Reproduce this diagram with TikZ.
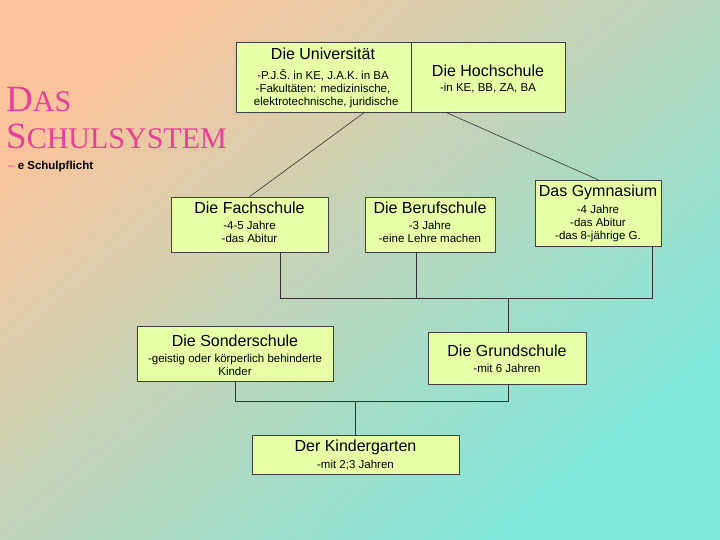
\documentclass[tikz,border=0pt]{standalone}
\usepackage{fontspec}
\setmainfont{Liberation Sans}
\newfontfamily\titlefont{Liberation Serif}
\definecolor{boxfill}{HTML}{E8FFA8}
\definecolor{peach}{HTML}{F9C49C}
\definecolor{turq}{HTML}{7DE8DC}
\definecolor{pinkt}{HTML}{E8409A}
\begin{document}
\begin{tikzpicture}[x=1pt,y=-1pt,
  sbox/.style={draw=black!75,fill=boxfill,line width=0.6pt},
  ttl/.style={font=\fontsize{16}{17}\selectfont},
  sub/.style={font=\fontsize{11.5}{13}\selectfont, align=center},
  big/.style={anchor=base west,inner sep=0,text=pinkt,font=\titlefont},
  ln/.style={draw=black!80,line width=0.6pt}]
\shade[shading=axis,top color=peach,bottom color=turq,shading angle=40] (0,0) rectangle (720,540);
\useasboundingbox (0,0) rectangle (720,540);
\node[big] (t1) at (6,112) {\fontsize{37}{30}\selectfont D\fontsize{30}{30}\selectfont AS};
\node[big] (t2) at (6,149) {\fontsize{37}{30}\selectfont S\fontsize{30}{30}\selectfont CHULSYSTEM};
\node[anchor=west,inner sep=0,font=\fontsize{11.5}{13}\selectfont\bfseries] (pf) at (8,167) {\textcolor{pinkt}{\mdseries -- }e Schulpflicht};
% boxes
\path[sbox] (236,42) rectangle (411,112);
\path[sbox] (411,42) rectangle (565,112);
\node[ttl] (uni) at (323,54) {Die Universität};
\node[sub,anchor=north] (unis) at (323,66) {-P.J.Š. in KE, J.A.K. in BA\\-Fakultäten: medizinische,\\\ \ elektrotechnische, juridische};
\node[ttl] (hoch) at (488,71) {Die Hochschule};
\node[sub] (hochs) at (488,88) {-in KE, BB, ZA, BA};
\coordinate (uB) at (365,112); \coordinate (hB) at (445,112);

\node[sbox,minimum width=157,minimum height=55] (fach) at (249.5,224.5) {};
\node[ttl] at (249.5,208) {Die Fachschule};
\node[sub,anchor=north] at (249.5,218) {-4-5 Jahre\\-das Abitur};

\node[sbox,minimum width=130,minimum height=55] (beruf) at (430,224.5) {};
\node[ttl] at (430,208) {Die Berufschule};
\node[sub,anchor=north] at (430,218) {-3 Jahre\\-eine Lehre machen};

\node[sbox,minimum width=126,minimum height=66] (gym) at (598,213) {};
\node[ttl] at (598,192) {Das Gymnasium};
\node[sub,anchor=north] at (598,202) {-4 Jahre\\-das Abitur\\-das 8-jährige G.};

\node[sbox,minimum width=196,minimum height=55] (sonder) at (235,353.5) {};
\node[ttl] at (235,341) {Die Sonderschule};
\node[sub,anchor=north] at (235,351) {-geistig oder körperlich behinderte\\Kinder};

\node[sbox,minimum width=158,minimum height=52] (grund) at (507,358) {};
\node[ttl] at (507,351) {Die Grundschule};
\node[sub,anchor=north] at (507,361) {-mit 6 Jahren};

\node[sbox,minimum width=207,minimum height=39] (kind) at (355.5,454.5) {};
\node[ttl] at (355.5,447) {Der Kindergarten};
\node[sub,anchor=north] at (355.5,457) {-mit 2;3 Jahren};

% connectors
\draw[ln] (uB) -- (fach.north);
\draw[ln] (hB) -- (gym.north);
\coordinate (b1) at (280,298); \coordinate (b2) at (652,298); \coordinate (bm) at (508,298);
\draw[ln] (fach.south -| b1) -- (b1) -- (b2) -- (gym.south -| b2);
\draw[ln] (beruf.south -| 416,0) -- (416,298);
\draw[ln] (bm) -- (grund.north -| bm);
\coordinate (c1) at (235,401); \coordinate (c2) at (508,401); \coordinate (cm) at (355,401);
\draw[ln] (sonder.south) -- (c1) -- (c2) -- (grund.south -| c2);
\draw[ln] (cm) -- (kind.north -| cm);
\end{tikzpicture}
\end{document}
